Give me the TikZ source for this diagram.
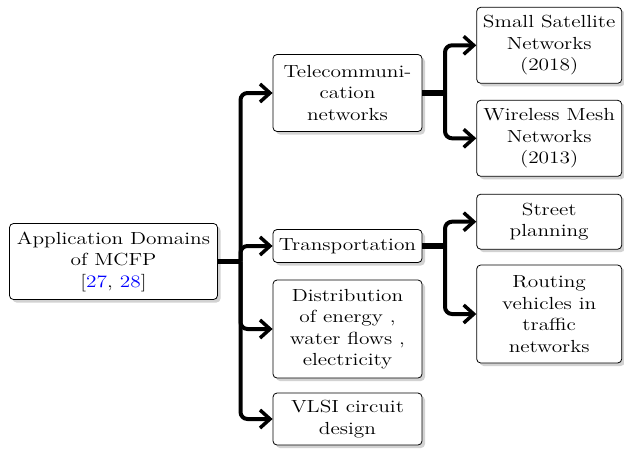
\documentclass[tikz,border=0pt]{standalone}
\usepackage{fontspec}
\setmainfont{lmroman12-regular.otf}[FakeStretch=1.22]
\usetikzlibrary{shadows,arrows.meta}
\begin{document}
\begin{tikzpicture}[x=1pt,y=-1pt,
  box/.style={draw=black, line width=0.8pt, rounded corners=4pt, fill=white,
    align=center, inner sep=2pt, font=\fontsize{17.5}{21.5}\selectfont,
    drop shadow={shadow xshift=3pt, shadow yshift=-3pt, fill=black!35}},
  trunk/.style={line width=5.5pt},
  branch/.style={line width=4pt, rounded corners=7pt,
    -{Straight Barb[length=10pt,width=18pt,line width=3.5pt]}},
  cite/.style={text=blue}]
\useasboundingbox (0,0) rectangle (624,448);

\node[box, minimum width=208pt, minimum height=76pt] (root) at (113.5,261.5)
  {Application Domains\\of MCFP\\{[}\textcolor{blue}{27}, \textcolor{blue}{28}{]}};

\node[box, minimum width=149pt, minimum height=77pt] (tele) at (347.5,93)
  {Telecommuni-\\cation\\networks};
\node[box, minimum width=149pt, minimum height=33pt] (trans) at (347.5,246)
  {Transportation};
\node[box, minimum width=149pt, minimum height=98pt] (dist) at (347.5,329)
  {Distribution\\of energy ,\\water flows ,\\electricity};
\node[box, minimum width=149pt, minimum height=52pt] (vlsi) at (347.5,419)
  {VLSI circuit\\design};

\node[box, minimum width=145pt, minimum height=76pt] (sat) at (549.2,45.3)
  {Small Satellite\\Networks\\(2018)};
\node[box, minimum width=145pt, minimum height=76pt] (mesh) at (549.2,138.3)
  {Wireless Mesh\\Networks\\(2013)};
\node[box, minimum width=145pt, minimum height=55pt] (street) at (549.2,221.7)
  {Street\\planning};
\node[box, minimum width=145pt, minimum height=98pt] (route) at (549.2,314)
  {Routing\\vehicles in\\traffic\\networks};

\coordinate (f0) at (240.5,261.5);
\coordinate (f1) at (445,93);
\coordinate (f2) at (445,246);

\draw[trunk] (root.east) -- (f0);
\draw[trunk] (tele.east) -- (f1);
\draw[trunk] (trans.east) -- (f2);

\foreach \c in {tele,trans,dist,vlsi}
  \draw[branch] (f0) |- (\c.west);
\foreach \c in {sat,mesh}
  \draw[branch] (f1) |- (\c.west);
\foreach \c in {street,route}
  \draw[branch] (f2) |- (\c.west);
\end{tikzpicture}
\end{document}
